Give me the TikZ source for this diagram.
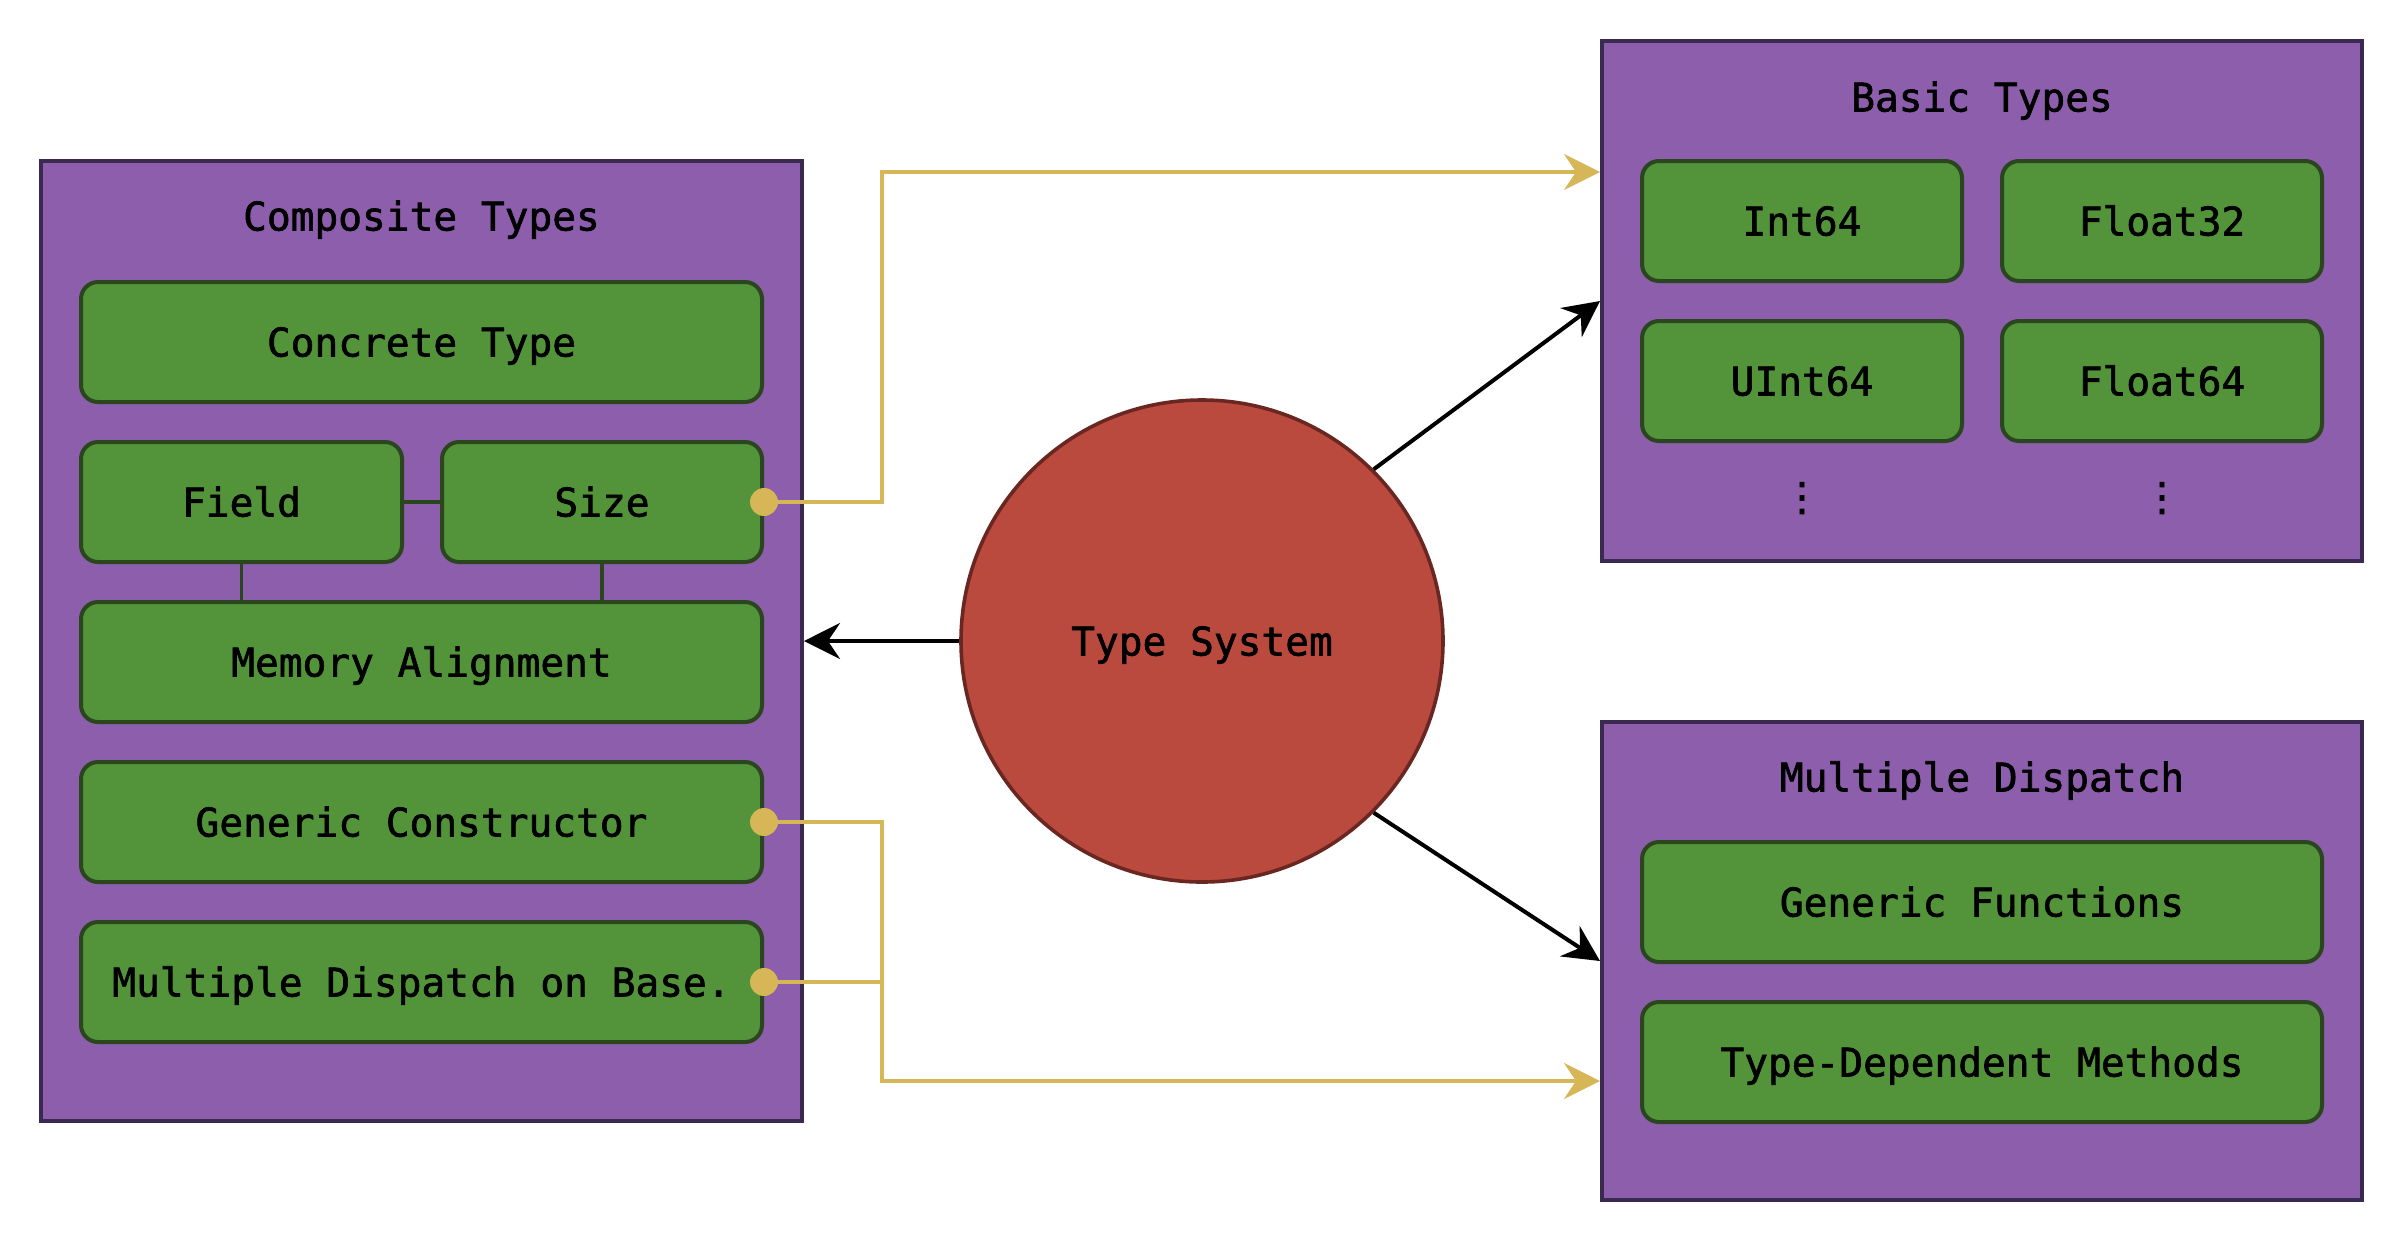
\documentclass[tikz,border=0pt]{standalone}
\usepackage{fontspec}
\newfontfamily\labelfont{DejaVu Sans Mono}[FakeBold=1.6]
\newfontfamily\dotsfont{DejaVu Sans}[FakeBold=1.6]
\usetikzlibrary{arrows.meta}

\definecolor{grpfill}{HTML}{8C5EAC}
\definecolor{grpline}{HTML}{3A2950}
\definecolor{itemfill}{HTML}{53933A}
\definecolor{itemline}{HTML}{2A461E}
\definecolor{corefill}{HTML}{BA4A3D}
\definecolor{coreline}{HTML}{6A2722}
\definecolor{linkyel}{HTML}{D6B656}

\tikzset{
  lbl/.style={font=\labelfont\fontsize{19.75}{24}\selectfont, text=black,
    text height=14.5pt, text depth=0pt},
  group/.style={draw=grpline, fill=grpfill, line width=2pt, inner sep=0pt},
  item/.style={lbl, draw=itemline, fill=itemfill, line width=2pt,
    rounded corners=8.5pt, inner sep=0pt, minimum height=60pt},
  core/.style={lbl, circle, draw=coreline, fill=corefill, line width=1.8pt,
    minimum size=241pt, inner sep=0pt},
  tie/.style={draw=itemline, line width=1.8pt},
  blk/.style={draw=black, line width=2pt,
    -{Stealth[length=18pt, width=18pt, inset=6pt]}},
  yel/.style={draw=linkyel, line width=1.8pt},
  yelarrow/.style={yel, -{Stealth[length=18pt, width=18pt, inset=6pt]}},
  vdot/.style={font=\dotsfont\fontsize{19.75}{24}\selectfont, text=black},
}

\begin{document}
\begin{tikzpicture}[x=0.5pt, y=-0.5pt]
  \useasboundingbox (0,0) rectangle (2404,1244);

  % Composite types group
  \node[group, minimum width=380.5pt, minimum height=480pt] (comp) at (421.5,641) {};
  \node[lbl] (comptitle) at (421.5,216) {Composite Types};
  \node[item, minimum width=340.5pt] (concrete) at (421.5,342) {Concrete Type};
  \node[item, minimum width=160.5pt] (field) at (241.5,502) {Field};
  \node[item, minimum width=160pt] (size) at (602,502) {Size};
  \node[item, minimum width=340.5pt] (memory) at (421.5,662) {Memory Alignment};
  \node[item, minimum width=340.5pt] (gencon) at (421.5,822) {Generic Constructor};
  \node[item, minimum width=340.5pt] (mdbase) at (421.5,982) {Multiple Dispatch on Base.};

  \draw[tie] (field.east) -- (size.west);
  \draw[tie] (field.south) -- (field.south |- memory.north);
  \draw[tie] (size.south) -- (size.south |- memory.north);

  % Basic types group
  \node[group, minimum width=380pt, minimum height=260pt] (basic) at (1982,301) {};
  \node[lbl] (basictitle) at (1982,97) {Basic Types};
  \node[item, minimum width=160pt] (int64) at (1802,221) {Int64};
  \node[item, minimum width=160pt] (float32) at (2162,221) {Float32};
  \node[item, minimum width=160pt] (uint64) at (1802,381) {UInt64};
  \node[item, minimum width=160pt] (float64) at (2162,381) {Float64};
  \node[vdot] (dotsa) at (1802,498) {⋮};
  \node[vdot] (dotsb) at (2162,498) {⋮};

  % Multiple dispatch group
  \node[group, minimum width=380pt, minimum height=239pt] (md) at (1982,961) {};
  \node[lbl] (mdtitle) at (1982,777) {Multiple Dispatch};
  \node[item, minimum width=340pt] (genfun) at (1982,902) {Generic Functions};
  \node[item, minimum width=340pt] (typedep) at (1982,1062) {Type-Dependent Methods};

  % Central node
  \node[core] (ts) at (1202,641) {Type System};

  % Main relations
  \draw[blk] (ts.west) -- (comp.east);
  \draw[blk] (ts.45) -- (basic.west);
  \draw[blk] (ts.-45) -- (md.west);

  % Yellow links from composite items
  \coordinate (jtop) at (882,172);
  \coordinate (jbot) at (882,1081);
  \draw[yelarrow] (size.east) -- (jtop |- size.east) -- (jtop) -- (basic.west |- jtop);
  \draw[yelarrow] (gencon.east) -- (jbot |- gencon.east) -- (jbot) -- (md.west |- jbot);
  \draw[yel] (mdbase.east) -- (jbot |- mdbase.east);
  \fill[linkyel] (size.east) circle (7pt);
  \fill[linkyel] (gencon.east) circle (7pt);
  \fill[linkyel] (mdbase.east) circle (7pt);
\end{tikzpicture}
\end{document}
